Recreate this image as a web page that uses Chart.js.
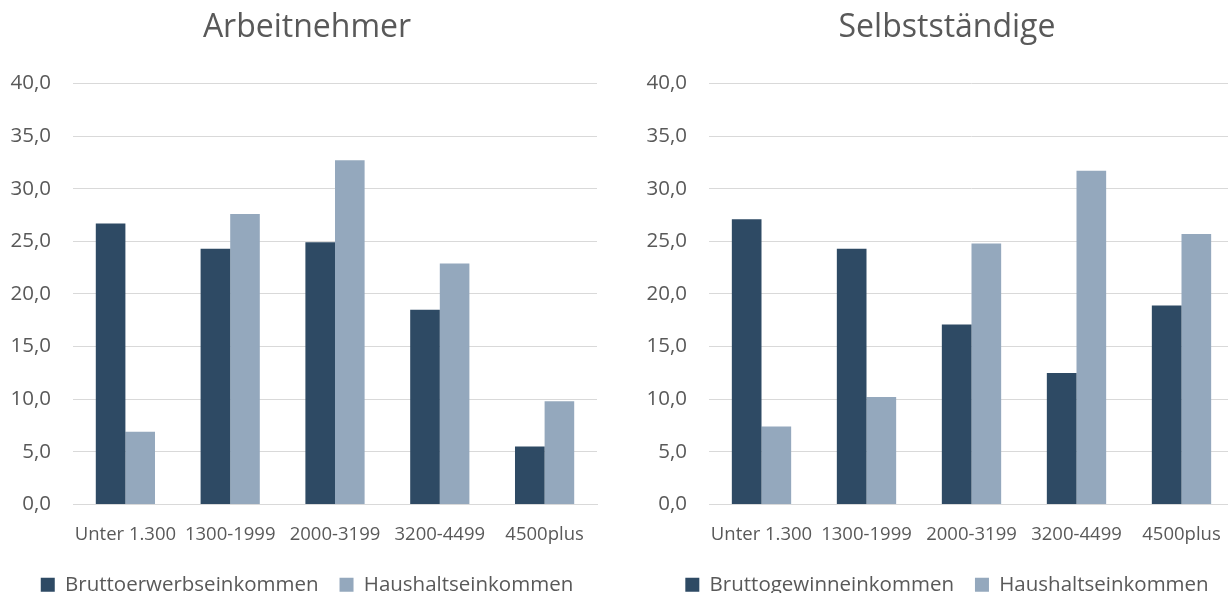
<!DOCTYPE html>
<html>
<head>
<meta charset="utf-8">
<script src="https://cdn.jsdelivr.net/npm/chart.js@4"></script>
<style>
  body { margin: 0; background: #fff; overflow: hidden; width: 1228px; height: 593px; position: relative; }
  .box { position: absolute; top: 0; height: 605px; }
</style>
</head>
<body>
<div class="box" style="left:0; width:614px"><canvas id="chart_links"></canvas></div>
<div class="box" style="left:614px; width:666px"><canvas id="chart_rechts"></canvas></div>
<script>
/** Daten */
const kategorien = ["Unter 1.300", "1300-1999", "2000-3199", "3200-4499", "4500plus"];
const y_ticks = [0, 5, 10, 15, 20, 25, 30, 35, 40];

const arbeitnehmer_brutto = [26.7, 24.3, 24.9, 18.5, 5.5];
const arbeitnehmer_haushalt = [6.9, 27.6, 32.7, 22.9, 9.8];

const selbst_brutto = [27.1, 24.3, 17.1, 12.5, 18.9];
const selbst_haushalt = [7.4, 10.2, 24.8, 31.7, 25.7];

const dunkel = "#2E4A64";
const hell = "#94A8BD";
const grau = "#595959";

Chart.defaults.font.family = "'Open Sans', sans-serif";
Chart.defaults.color = grau;

/** Eine Grafik pro Canvas */
function grafik(id, titel, label1, werte1, werte2, breite_links, breite_rechts) {
  const ctx = document.getElementById(id).getContext("2d");
  return new Chart(ctx, {
    type: "bar",
    data: {
      labels: kategorien,
      datasets: [{
        label: label1,
        data: werte1,
        backgroundColor: dunkel,
        barPercentage: 1,
        categoryPercentage: 0.565
      }, {
        label: "Haushaltseinkommen",
        data: werte2,
        backgroundColor: hell,
        barPercentage: 1,
        categoryPercentage: 0.565
      }]
    },
    options: {
      responsive: true,
      maintainAspectRatio: false,
      animation: false,
      layout: { padding: 0 },
      plugins: {
        title: {
          display: true,
          text: titel,
          color: grau,
          font: { size: 32, weight: "normal" },
          padding: { top: 9, bottom: 36 }
        },
        legend: {
          position: "bottom",
          labels: {
            boxWidth: 14,
            boxHeight: 14,
            padding: 21,
            color: grau,
            font: { size: 20.5 }
          }
        },
        tooltip: { enabled: false }
      },
      scales: {
        x: {
          afterFit: function (scale) { scale.height = 49; },
          grid: { display: false, drawTicks: false },
          border: { color: "#D9D9D9" },
          ticks: { padding: 19, font: { size: 18.5 }, color: grau, maxRotation: 0, autoSkip: false }
        },
        y: {
          min: 0,
          max: 40,
          afterFit: function (scale) { scale.width = breite_links; },
          afterBuildTicks: function (scale) { scale.ticks = y_ticks.map(v => ({ value: v })); },
          grid: { color: "#D9D9D9", drawTicks: false },
          border: { display: false },
          ticks: {
            padding: 22,
            font: { size: 20.5 },
            color: grau,
            callback: v => v.toFixed(1).replace(".", ",")
          }
        },
        rand: {
          position: "right",
          min: 0,
          max: 40,
          afterFit: function (scale) { scale.width = breite_rechts; },
          grid: { display: false, drawTicks: false },
          border: { display: false },
          ticks: { display: false }
        }
      }
    }
  });
}

grafik("chart_links", "Arbeitnehmer", "Bruttoerwerbseinkommen", arbeitnehmer_brutto, arbeitnehmer_haushalt, 73, 17);
grafik("chart_rechts", "Selbstständige", "Bruttogewinneinkommen", selbst_brutto, selbst_haushalt, 95, 46);
</script>
</body>
</html>
